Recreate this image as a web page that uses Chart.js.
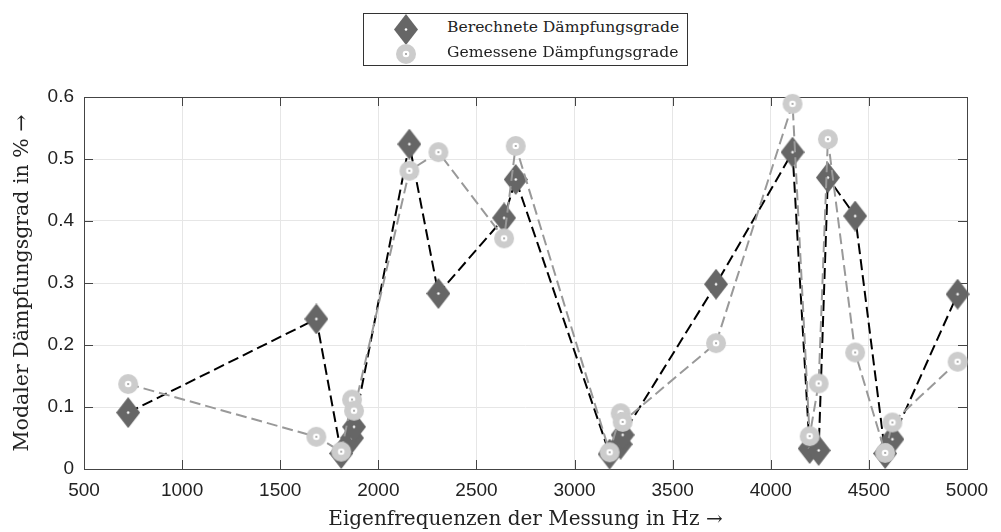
<!DOCTYPE html>
<html lang="de">
<head>
<meta charset="utf-8">
<title>Dämpfungsgrade</title>
<script src="https://cdn.jsdelivr.net/npm/chart.js@4"></script>
<style>
  html, body { margin: 0; padding: 0; background: #fff; }
  #wrap { position: relative; width: 1001px; height: 532px; }
  #legende {
    position: absolute; left: 363px; top: 13px; width: 323px; height: 51px;
    border: 1px solid #333; background: #fff;
    font-family: "DejaVu Serif", serif; font-size: 15.6px; color: #222;
  }
  #legende .zeile { position: absolute; left: 0; height: 24px; width: 100%; }
  #legende canvas { position: absolute; }
  #legende span { position: absolute; left: 83px; top: 2px; white-space: nowrap; }
</style>
</head>
<body>
<div id="wrap">
  <canvas id="grafik" width="1001" height="532"></canvas>
  <div id="legende">
    <div class="zeile" style="top:2px"><canvas id="leg-ber"></canvas><span>Berechnete Dämpfungsgrade</span></div>
    <div class="zeile" style="top:27px"><canvas id="leg-gem"></canvas><span>Gemessene Dämpfungsgrade</span></div>
  </div>
</div>
<script>
// Eigenfrequenzen der Messung (Hz) und Dämpfungsgrade (%)
const frequenzen = [725, 1684, 1811, 1866, 1876, 2158, 2306, 2641, 2700, 3179, 3235, 3245,
                    3721, 4111, 4198, 4244, 4291, 4430, 4583, 4620, 4952];
const berechnet = [0.091, 0.242, 0.025, 0.050, 0.068, 0.524, 0.283, 0.405, 0.467, 0.024, 0.040, 0.055,
                   0.298, 0.511, 0.033, 0.030, 0.470, 0.408, 0.025, 0.048, 0.282];
const gemessen = [0.137, 0.052, 0.028, 0.112, 0.094, 0.481, 0.511, 0.372, 0.521, 0.027, 0.090, 0.076,
                  0.203, 0.589, 0.053, 0.138, 0.532, 0.188, 0.026, 0.075, 0.173];
const xTicks = [500, 1000, 1500, 2000, 2500, 3000, 3500, 4000, 4500, 5000];
const yTicks = [0, 0.1, 0.2, 0.3, 0.4, 0.5, 0.6];

// Marker als kleine Canvas-Bilder (Raute und Ring)
function raute(c) {
  c = c || document.createElement('canvas');
  c.width = 24; c.height = 31;
  const g = c.getContext('2d');
  g.fillStyle = '#666';
  g.beginPath();
  g.moveTo(12, 0); g.lineTo(24, 15.5); g.lineTo(12, 31); g.lineTo(0, 15.5);
  g.closePath(); g.fill();
  g.fillStyle = '#fff';
  g.beginPath(); g.arc(12, 15.5, 1.3, 0, Math.PI * 2); g.fill();
  return c;
}
function ring(c) {
  c = c || document.createElement('canvas');
  c.width = 22; c.height = 22;
  const g = c.getContext('2d');
  g.fillStyle = '#ccc';
  g.beginPath(); g.arc(11, 11, 10, 0, Math.PI * 2); g.fill();
  g.fillStyle = '#fff';
  g.beginPath(); g.arc(11, 11, 3.3, 0, Math.PI * 2); g.fill();
  g.fillStyle = '#888';
  g.beginPath(); g.arc(11, 11, 0.9, 0, Math.PI * 2); g.fill();
  return c;
}

// Legenden-Marker
const lb = raute(document.getElementById('leg-ber'));
lb.style.left = (42 - 12) + 'px'; lb.style.top = (12 - 15.5 + 1) + 'px';
const lg = ring(document.getElementById('leg-gem'));
lg.style.left = (42 - 11) + 'px'; lg.style.top = (12 - 11 + 1) + 'px';

// Rahmen mit nach innen zeigenden Ticks (MATLAB-Stil)
const rahmenPlugin = {
  id: 'rahmen',
  beforeDatasetsDraw(chart) {
    const { ctx, chartArea: a, scales } = chart;
    const len = 9;
    ctx.save();
    ctx.strokeStyle = '#444';
    ctx.lineWidth = 1;
    ctx.beginPath();
    xTicks.forEach(v => {
      const x = Math.round(scales.x.getPixelForValue(v)) + 0.5;
      ctx.moveTo(x, a.bottom); ctx.lineTo(x, a.bottom - len);
      ctx.moveTo(x, a.top); ctx.lineTo(x, a.top + len);
    });
    yTicks.forEach(v => {
      const y = Math.round(scales.y.getPixelForValue(v)) + 0.5;
      ctx.moveTo(a.left, y); ctx.lineTo(a.left + len, y);
      ctx.moveTo(a.right, y); ctx.lineTo(a.right - len, y);
    });
    ctx.stroke();
    ctx.strokeRect(Math.round(a.left) + 0.5, Math.round(a.top) + 0.5,
                   Math.round(a.right - a.left), Math.round(a.bottom - a.top));
    ctx.restore();
  }
};

const punkte = (werte) => frequenzen.map((f, i) => ({ x: f, y: werte[i] }));

new Chart(document.getElementById('grafik'), {
  type: 'line',
  data: {
    datasets: [
      {
        label: 'Gemessene Dämpfungsgrade',
        data: punkte(gemessen),
        borderColor: '#999',
        borderWidth: 2,
        borderDash: [11, 5],
        pointStyle: ring(),
        order: 0,
        clip: false
      },
      {
        label: 'Berechnete Dämpfungsgrade',
        data: punkte(berechnet),
        borderColor: '#000',
        borderWidth: 2,
        borderDash: [11, 5],
        pointStyle: raute(),
        order: 1,
        clip: false
      }
    ]
  },
  options: {
    responsive: false,
    devicePixelRatio: 1,
    animation: false,
    layout: { padding: { top: 97, right: 34, left: 0, bottom: 0 } },
    elements: { line: { tension: 0, fill: false } },
    plugins: { legend: { display: false }, tooltip: { enabled: false } },
    scales: {
      x: {
        type: 'linear',
        min: 500, max: 5000,
        afterFit: s => { s.height = 63; },
        afterBuildTicks: s => { s.ticks = xTicks.map(v => ({ value: v })); },
        ticks: {
          padding: 10, color: '#222',
          font: { family: '"Liberation Sans", Arial, sans-serif', size: 19 },
          callback: v => String(v)
        },
        grid: { color: '#e6e6e6', drawTicks: false },
        border: { display: false },
        title: {
          display: true,
          text: 'Eigenfrequenzen der Messung in Hz →',
          color: '#222',
          font: { family: '"DejaVu Serif", serif', size: 20 },
          padding: { top: 0, bottom: 0 }
        }
      },
      y: {
        type: 'linear',
        min: 0, max: 0.6,
        afterFit: s => { s.width = 84; },
        afterBuildTicks: s => { s.ticks = yTicks.map(v => ({ value: v })); },
        ticks: {
          padding: 10, color: '#222',
          font: { family: '"Liberation Sans", Arial, sans-serif', size: 19 },
          callback: v => (v === 0 ? '0' : v.toFixed(1))
        },
        grid: { color: '#e6e6e6', drawTicks: false },
        border: { display: false },
        title: {
          display: true,
          text: 'Modaler Dämpfungsgrad in % →',
          color: '#222',
          font: { family: '"DejaVu Serif", serif', size: 20.5 },
          padding: { top: 10, bottom: 0 }
        }
      }
    }
  },
  plugins: [rahmenPlugin]
});
</script>
</body>
</html>
